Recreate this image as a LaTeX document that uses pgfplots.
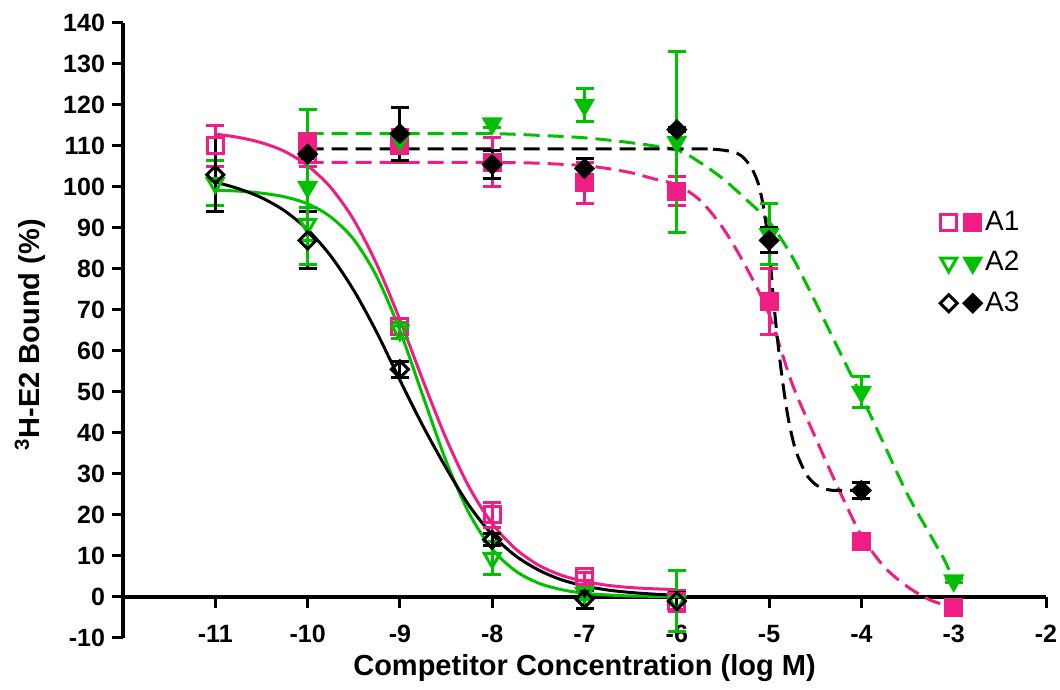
\documentclass[border=0pt]{standalone}
\usepackage{fontspec}
\setmainfont{Liberation Sans}
\usepackage{pgfplots}
\pgfplotsset{compat=1.18}
\definecolor{pinkc}{RGB}{238,30,132}
\definecolor{greenc}{RGB}{0,192,0}

\pgfplotsset{
  datapts/.style={only marks, forget plot, line width=1.5pt, mark size=4pt,
    error bars/y dir=both, error bars/y explicit,
    error bars/error bar style={line width=1.5pt, solid},
    error bars/error mark options={rotate=90, mark size=4.5pt, line width=1.5pt}},
  fit/.style={forget plot, no marks, line width=1.5pt, smooth},
  dfit/.style={forget plot, no marks, line width=1.5pt, smooth, dash pattern=on 8pt off 4pt},
}

\begin{document}
\begin{tikzpicture}
\useasboundingbox (-61.5pt,-26pt) rectangle (468.5pt,319pt);
\begin{axis}[
  scale only axis, width=461.5pt, height=307.5pt,
  at={(0,0)}, anchor=south west,
  xmin=-12, xmax=-2, ymin=-10, ymax=140,
  axis x line*=middle, axis y line*=left,
  axis line style={-, line width=2pt},
  xtick={-11,-10,...,-2}, ytick={-10,0,...,140},
  tick align=outside, major tick length=5.5pt,
  tick style={line width=1.5pt, black},
  ticklabel style={font=\bfseries\fontsize{12.5}{12.5}\selectfont},
  /pgf/number format/assume math mode=true,
  xticklabel style={yshift=-5pt},
  xlabel={Competitor Concentration (log M)},
  ylabel={\textsuperscript{3}H-E2 Bound (\%)},
  xlabel style={at={([yshift=-15pt]axis description cs:0.5,0)}, anchor=center,
    font=\bfseries\fontsize{14.5}{14.5}\selectfont},
  ylabel style={at={([xshift=-46.5pt]axis description cs:0,0.493)}, anchor=center,
    font=\bfseries\fontsize{14.5}{14.5}\selectfont},
  legend style={at={(axis description cs:0.885,0.61)}, anchor=west, draw=none, fill=none,
    font=\fontsize{14}{14}\selectfont, row sep=5pt, inner sep=0pt},
  legend cell align=left,
  clip=false,
]

% fitted curves, open symbols (solid)
\addplot[fit, color=pinkc] coordinates {
  (-11,112.9) (-10.75,112.1) (-10.5,110.8) (-10.25,108.7) (-10,105.2) (-9.75,99.9)
  (-9.5,92.0) (-9.25,81.1) (-9,67.6) (-8.75,52.8) (-8.5,38.7) (-8.25,26.8) (-8,17.9)
  (-7.75,11.8) (-7.5,7.8) (-7.25,5.3) (-7,3.8) (-6.75,2.85) (-6.5,2.3) (-6.25,2.0) (-6,1.8)
};
\addplot[fit, color=greenc] coordinates {
  (-11,99.2) (-10.75,99.0) (-10.5,98.5) (-10.25,97.6) (-10,95.9) (-9.75,92.7) (-9.5,87.2)
  (-9.25,78.1) (-9,65.0) (-8.75,49.0) (-8.5,33.2) (-8.25,20.4) (-8,11.7) (-7.75,6.4)
  (-7.5,3.4) (-7.25,1.8) (-7,0.9) (-6.75,0.5) (-6.5,0.25) (-6,0.1)
};
\addplot[fit, color=black] coordinates {
  (-11,101.2) (-10.75,99.6) (-10.5,97.4) (-10.25,94.2) (-10,89.6) (-9.75,83.2) (-9.5,74.8)
  (-9.25,64.5) (-9,52.9) (-8.75,41.7) (-8.5,31.5) (-8.25,22.3) (-8,15.2) (-7.75,10.1)
  (-7.5,6.6) (-7.25,4.2) (-7,2.7) (-6.75,1.7) (-6.5,1.1) (-6.25,0.7) (-6,0.4)
};

% fitted curves, filled symbols (dashed)
\addplot[dfit, color=pinkc] coordinates {
  (-10,106) (-9,106) (-8,106) (-7.5,105.8) (-7,105.2) (-6.75,104.5) (-6.5,103.5)
  (-6.25,102) (-6,100.5) (-5.75,96.8) (-5.5,90) (-5.25,80.5) (-5,69) (-4.75,52)
  (-4.5,39) (-4.25,26.5) (-4,15) (-3.75,7.3) (-3.5,2.5) (-3.25,-0.8) (-3,-2.5)
};
\addplot[dfit, color=greenc] coordinates {
  (-10,113) (-9,113) (-8,113) (-7.5,112.6) (-7,112) (-6.5,110.8) (-6,109)
  (-5.75,106) (-5.5,102) (-5.25,97) (-5,91.5) (-4.75,83) (-4.5,72) (-4.25,60.5)
  (-4,49) (-3.75,37) (-3.5,25) (-3.25,15) (-3.1,9) (-3,4)
};
\addplot[dfit, color=black, smooth=false] coordinates {
  (-10,109.3) (-6,109.3) (-5.6,109.2) (-5.4,108.6) (-5.3,107.6) (-5.2,105)
  (-5.12,101) (-5.06,95) (-5,85) (-4.95,72) (-4.9,61) (-4.85,52) (-4.8,44.5)
  (-4.75,39) (-4.7,35) (-4.6,30) (-4.5,27.5) (-4.4,26.4) (-4.3,26) (-4.1,26)
};

% A1 open squares
\addplot[datapts, color=pinkc, mark=square] coordinates {
  (-11,110) +- (0,5)
  (-10,108) +- (0,3)
  (-9,66) +- (0,2)
  (-8,20) +- (0,3)
  (-7,5) +- (0,1)
  (-6,-1) +- (0,2.5)
};
% A2 open triangles
\addplot[datapts, color=greenc, mark=triangle, mark options={rotate=180}, mark size=4.6pt] coordinates {
  (-11,101) +- (0,5.5)
  (-10,91) +- (0,4)
  (-9,65) +- (0,2)
  (-8,9.5) +- (0,4)
  (-7,1) +- (0,1.5)
  (-6,-1) +- (0,7.5)
};
% A3 open diamonds
\addplot[datapts, color=black, mark=square, mark options={rotate=45}, mark size=3pt] coordinates {
  (-11,103) +- (0,9)
  (-10,87) +- (0,7)
  (-9,55.5) +- (0,2)
  (-8,14) +- (0,1.5)
  (-7,-0.5) +- (0,2.2)
  (-6,-1) +- (0,2)
};
% A1 filled squares
\addplot[datapts, color=pinkc, mark=square*] coordinates {
  (-10,111) +- (0,2)
  (-9,110) +- (0,4)
  (-8,106) +- (0,6)
  (-7,101) +- (0,5)
  (-6,99) +- (0,3.5)
  (-5,72) +- (0,8)
  (-4,13.5) +- (0,1)
  (-3,-2.5) +- (0,1.5)
};
% A2 filled triangles
\addplot[datapts, color=greenc, mark=triangle*, mark options={rotate=180}, mark size=4.6pt] coordinates {
  (-10,100) +- (0,19)
  (-9,111.5) +- (0,1)
  (-8,115.5) +- (0,1)
  (-7,120) +- (0,4)
  (-6,111) +- (0,22)
  (-5,88.5) +- (0,7.5)
  (-4,50) +- (0,3.7)
  (-3,4) +- (0,0.5)
};
% A3 filled diamonds
\addplot[datapts, color=black, mark=square*, mark options={rotate=45}, mark size=3pt] coordinates {
  (-10,108) +- (0,1)
  (-9,113) +- (0,6.5)
  (-8,105.5) +- (0,3.5)
  (-7,104.5) +- (0,2.5)
  (-6,114) +- (0,0.5)
  (-5,87) +- (0,3)
  (-4,26) +- (0,2)
};

\addlegendimage{legend image code/.code={
  \draw[pinkc, line width=1.5pt, mark size=4pt, mark=square] plot coordinates {(0pt,0pt)};
  \draw[pinkc, line width=1.5pt, mark size=4pt, mark=square*] plot coordinates {(12pt,0pt)};}}
\addlegendentry{A1}
\addlegendimage{legend image code/.code={
  \draw[greenc, line width=1.5pt, mark size=4.6pt, mark=triangle, mark options={rotate=180}] plot coordinates {(0pt,0pt)};
  \draw[greenc, line width=1.5pt, mark size=4.6pt, mark=triangle*, mark options={rotate=180}] plot coordinates {(12pt,0pt)};}}
\addlegendentry{A2}
\addlegendimage{legend image code/.code={
  \draw[black, line width=1.5pt, mark size=3pt, mark=square, mark options={rotate=45}] plot coordinates {(0pt,0pt)};
  \draw[black, line width=1.5pt, mark size=3pt, mark=square*, mark options={rotate=45}] plot coordinates {(12pt,0pt)};}}
\addlegendentry{A3}

\end{axis}
\end{tikzpicture}
\end{document}
